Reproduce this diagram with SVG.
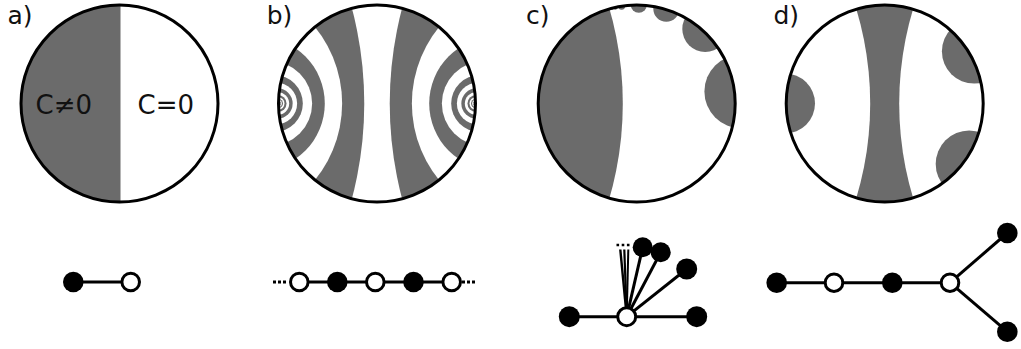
<svg xmlns="http://www.w3.org/2000/svg" width="1021" height="349" viewBox="0 0 1021 349">
<style>
.g{fill:#6b6b6b}
.w{fill:#fff}
.rim{fill:none;stroke:#000;stroke-width:3}
.lbl{font-family:"DejaVu Sans","Liberation Sans",sans-serif;font-size:26px;fill:#111}
.tag{font-family:"DejaVu Sans","Liberation Sans",sans-serif;font-size:25px;fill:#111}
.edge{stroke:#000;stroke-width:3;fill:none}
.dots{stroke:#000;stroke-width:3;stroke-dasharray:3 2;fill:none}
.bn{fill:#000}
.wn{fill:#fff;stroke:#000;stroke-width:3}
</style>
<defs>
<clipPath id="ca"><circle cx="119.5" cy="103.5" r="98.5"/></clipPath>
<clipPath id="cb"><circle cx="377" cy="103.5" r="98.5"/></clipPath>
<clipPath id="cc"><circle cx="636.7" cy="103.5" r="98.5"/></clipPath>
<clipPath id="cd"><circle cx="884.7" cy="103.5" r="98.5"/></clipPath>
</defs>
<rect width="1021" height="349" fill="#fff"/>

<g id="panel-a">
<g clip-path="url(#ca)">
<rect x="19" y="0" width="101.5" height="210" class="g"/>
</g>
<circle cx="119.5" cy="103.5" r="98.5" class="rim"/>
<text x="7.5" y="23.5" class="tag">a)</text>
<text x="35.5" y="114" class="lbl">C≠0</text>
<text x="137.5" y="114" class="lbl">C=0</text>
</g>

<g id="panel-b">
<g clip-path="url(#cb)">
<circle cx="764.27" cy="103.5" r="374.53" class="g"/>
<circle cx="533.56" cy="103.5" r="121.69" class="w"/>
<circle cx="496.04" cy="103.5" r="66.84" class="g"/>
<circle cx="484.23" cy="103.5" r="42.37" class="w"/>
<circle cx="479.48" cy="103.5" r="28.30" class="g"/>
<circle cx="477.67" cy="103.5" r="20.78" class="w"/>
<circle cx="476.68" cy="103.5" r="15.32" class="g"/>
<circle cx="476.15" cy="103.5" r="11.32" class="w"/>
<circle cx="475.85" cy="103.5" r="8.37" class="g"/>
<circle cx="475.69" cy="103.5" r="6.19" class="w"/>
<circle cx="475.61" cy="103.5" r="4.59" class="g"/>
<circle cx="475.56" cy="103.5" r="3.40" class="w"/>
<circle cx="475.53" cy="103.5" r="2.52" class="g"/>
<circle cx="475.52" cy="103.5" r="1.87" class="w"/>
<circle cx="-10.27" cy="103.5" r="374.53" class="g"/>
<circle cx="220.44" cy="103.5" r="121.69" class="w"/>
<circle cx="257.96" cy="103.5" r="66.84" class="g"/>
<circle cx="269.77" cy="103.5" r="42.37" class="w"/>
<circle cx="274.52" cy="103.5" r="28.30" class="g"/>
<circle cx="276.33" cy="103.5" r="20.78" class="w"/>
<circle cx="277.32" cy="103.5" r="15.32" class="g"/>
<circle cx="277.85" cy="103.5" r="11.32" class="w"/>
<circle cx="278.15" cy="103.5" r="8.37" class="g"/>
<circle cx="278.31" cy="103.5" r="6.19" class="w"/>
<circle cx="278.39" cy="103.5" r="4.59" class="g"/>
<circle cx="278.44" cy="103.5" r="3.40" class="w"/>
<circle cx="278.47" cy="103.5" r="2.52" class="g"/>
<circle cx="278.48" cy="103.5" r="1.87" class="w"/>
</g>
<circle cx="377" cy="103.5" r="98.5" class="rim"/>
<text x="266.7" y="23.5" class="tag">b)</text>
</g>

<g id="panel-c">
<g clip-path="url(#cc)">
<circle cx="279.3" cy="103.5" r="343.5" class="g"/>
<circle cx="741.2" cy="91.4" r="36.8" class="g"/>
<circle cx="705.2" cy="29.1" r="22.9" class="g"/>
<circle cx="666.3" cy="8.7" r="13" class="g"/>
<circle cx="638.8" cy="4.7" r="8.1" class="g"/>
<circle cx="621.6" cy="6.1" r="3.6" class="g"/>
<circle cx="615.4" cy="7.3" r="2.4" class="g"/>
<circle cx="612.0" cy="8.1" r="1.55" class="g"/>
</g>
<circle cx="636.7" cy="103.5" r="98.5" class="rim"/>
<text x="526" y="23.5" class="tag">c)</text>
</g>

<g id="panel-d">
<g clip-path="url(#cd)">
<circle cx="884.7" cy="103.5" r="100" class="g"/>
<circle cx="542.4" cy="103.5" r="327.8" class="w"/>
<circle cx="1227" cy="103.5" r="327.8" class="w"/>
<circle cx="785" cy="103.5" r="30" class="g"/>
<circle cx="974.2" cy="51.3" r="32.3" class="g"/>
<circle cx="969.2" cy="164" r="33.5" class="g"/>
</g>
<circle cx="884.7" cy="103.5" r="98.5" class="rim"/>
<text x="773.5" y="23.5" class="tag">d)</text>
</g>

<g id="connectors">
<line x1="73.3" y1="282" x2="130.7" y2="282" class="edge"/>
<line x1="299.3" y1="282" x2="451.7" y2="282" class="edge"/>
<line x1="273" y1="282" x2="288" y2="282" class="dots"/>
<line x1="462" y1="282" x2="477" y2="282" class="dots"/>
<line x1="569.3" y1="316.7" x2="696.7" y2="316.7" class="edge"/>
<line x1="626.7" y1="316.7" x2="642.7" y2="247.3" class="edge"/>
<line x1="626.7" y1="316.7" x2="660.7" y2="252.3" class="edge"/>
<line x1="626.7" y1="316.7" x2="686.7" y2="269" class="edge"/>
<line x1="626.7" y1="316.7" x2="620.3" y2="249.5" stroke="#000" stroke-width="2.4"/>
<line x1="626.7" y1="316.7" x2="624.3" y2="249.5" stroke="#000" stroke-width="2.2"/>
<line x1="626.7" y1="316.7" x2="628.3" y2="249.5" stroke="#000" stroke-width="2"/>
<line x1="616.5" y1="245" x2="631" y2="245" stroke="#000" stroke-width="2.6" stroke-dasharray="2.6 2.6"/>
<line x1="776.7" y1="282.7" x2="950" y2="282.7" class="edge"/>
<line x1="950" y1="282.7" x2="1007.3" y2="233" class="edge"/>
<line x1="950" y1="282.7" x2="1007.3" y2="331.7" class="edge"/>
</g>

<g id="a-n1"><circle cx="73.3" cy="282" r="10.3" class="bn"/></g>
<g id="a-n2"><circle cx="130.7" cy="282" r="8.8" class="wn"/></g>

<g id="b-n1"><circle cx="299.3" cy="282" r="8.8" class="wn"/></g>
<g id="b-n2"><circle cx="337.3" cy="282" r="10.3" class="bn"/></g>
<g id="b-n3"><circle cx="375.3" cy="282" r="8.8" class="wn"/></g>
<g id="b-n4"><circle cx="413.5" cy="282" r="10.3" class="bn"/></g>
<g id="b-n5"><circle cx="451.7" cy="282" r="8.8" class="wn"/></g>

<g id="c-left"><circle cx="569.3" cy="316.7" r="10.5" class="bn"/></g>
<g id="c-right"><circle cx="696.7" cy="316.7" r="10.5" class="bn"/></g>
<g id="c-f1"><circle cx="642.7" cy="247.3" r="10" class="bn"/></g>
<g id="c-f2"><circle cx="660.7" cy="252.3" r="10" class="bn"/></g>
<g id="c-f3"><circle cx="686.7" cy="269" r="10.5" class="bn"/></g>
<g id="c-center"><circle cx="626.7" cy="316.7" r="9" class="wn"/></g>

<g id="d-n1"><circle cx="776.7" cy="282.7" r="10.3" class="bn"/></g>
<g id="d-n2"><circle cx="834" cy="282.7" r="8.8" class="wn"/></g>
<g id="d-n3"><circle cx="892.3" cy="282.7" r="10.3" class="bn"/></g>
<g id="d-n4"><circle cx="950" cy="282.7" r="8.8" class="wn"/></g>
<g id="d-n5"><circle cx="1007.3" cy="233" r="10.3" class="bn"/></g>
<g id="d-n6"><circle cx="1007.3" cy="331.7" r="10.3" class="bn"/></g>
</svg>
